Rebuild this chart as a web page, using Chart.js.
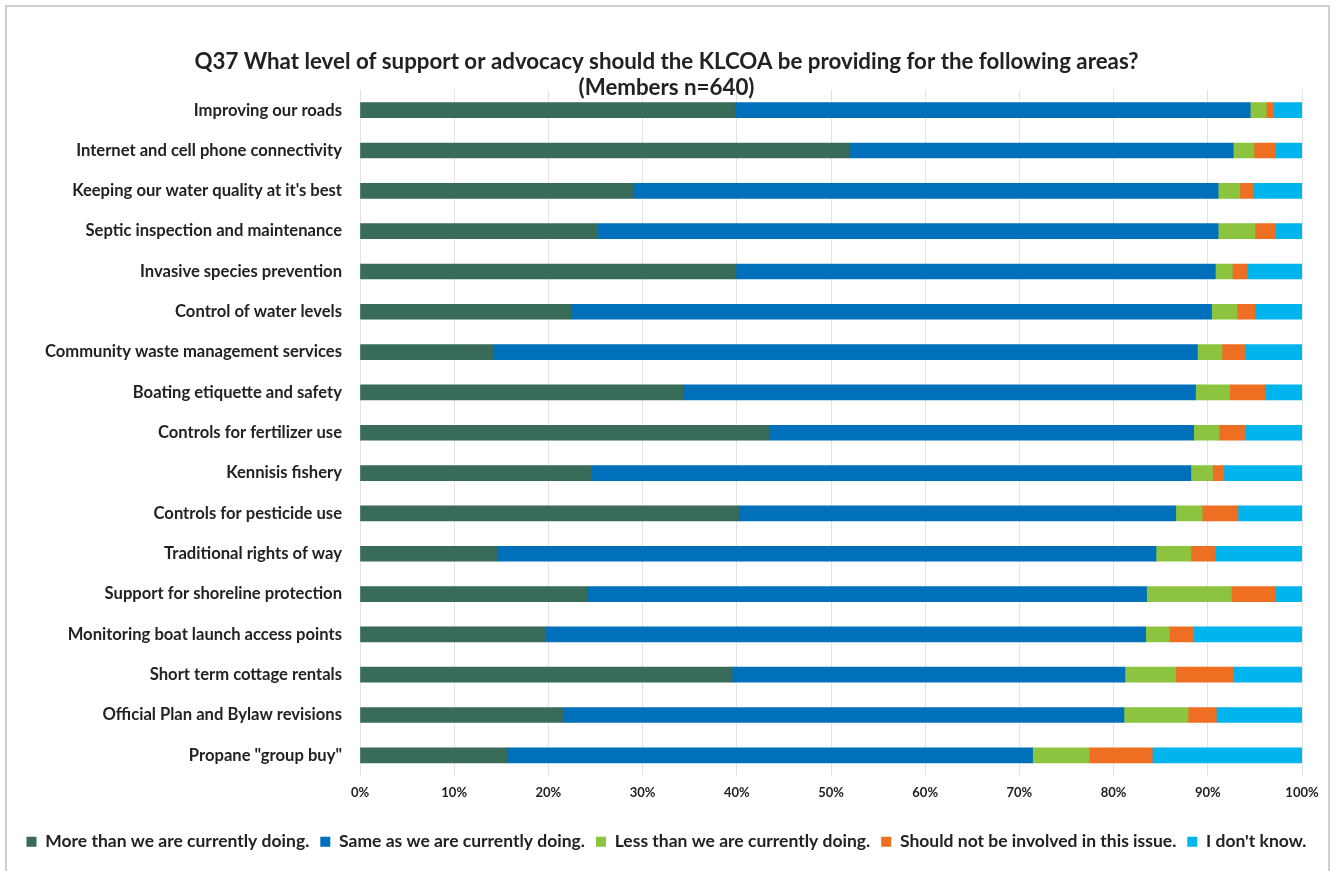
<!DOCTYPE html>
<html>
<head>
<meta charset="utf-8">
<script src="https://cdn.jsdelivr.net/npm/chart.js@4/dist/chart.umd.min.js"></script>
<style>
  html, body { margin: 0; padding: 0; background: #fff; overflow: hidden; }
  #wrap { position: relative; width: 1333px; height: 871px; }
  #frame { position: absolute; left: 5px; top: 5px; width: 1325px; height: 880px; border: 2px solid #cfcfcf; box-sizing: border-box; }
  canvas { position: absolute; left: 0; top: 0; }
</style>
</head>
<body>
<div id="wrap">
  <div id="frame"></div>
  <canvas id="myChart" width="1333" height="871"></canvas>
</div>
<script>
// カテゴリ
let categories = [
  "Improving our roads",
  "Internet and cell phone connectivity",
  "Keeping our water quality at it's best",
  "Septic inspection and maintenance",
  "Invasive species prevention",
  "Control of water levels",
  "Community waste management services",
  "Boating etiquette and safety",
  "Controls for fertilizer use",
  "Kennisis fishery",
  "Controls for pesticide use",
  "Traditional rights of way",
  "Support for shoreline protection",
  "Monitoring boat launch access points",
  "Short term cottage rentals",
  "Official Plan and Bylaw revisions",
  "Propane \"group buy\"",
];

// 系列の値（%）
let moreVals = [39.8, 52.0, 29.0, 25.2, 39.9, 22.4, 14.1, 34.3, 43.4, 24.6, 40.2, 14.5, 24.1, 19.7, 39.5, 21.5, 15.6];
let sameVals = [54.7, 40.7, 62.1, 65.9, 50.9, 68.0, 74.8, 54.4, 45.1, 63.6, 46.4, 70.0, 59.4, 63.7, 41.7, 59.6, 55.8];
let lessVals = [1.7, 2.2, 2.3, 3.9, 1.8, 2.7, 2.6, 3.6, 2.7, 2.3, 2.8, 3.7, 9.0, 2.5, 5.4, 6.8, 6.0];
let notVals = [0.8, 2.3, 1.4, 2.2, 1.6, 1.9, 2.4, 3.8, 2.7, 1.2, 3.8, 2.6, 4.7, 2.6, 6.1, 3.0, 6.7];
let dkVals = [3.0, 2.8, 5.2, 2.8, 5.8, 5.0, 6.1, 3.9, 6.1, 8.3, 6.8, 9.2, 2.8, 11.5, 7.3, 9.1, 15.9];

let seriesNames = [
  "More than we are currently doing.",
  "Same as we are currently doing.",
  "Less than we are currently doing.",
  "Should not be involved in this issue.",
  "I don't know.",
];

let titleLines = [
  "Q37 What level of support or advocacy should the KLCOA be providing for the following areas?",
  "(Members n=640)",
];

let xTicks = [0, 10, 20, 30, 40, 50, 60, 70, 80, 90, 100];

let colors = ["#386b58", "#0070bb", "#8cc43f", "#ee6e22", "#00b4ee"];
let fontName = "Lato";
let textColor = "#222222";

function makeDataset(i, values) {
  return {
    label: seriesNames[i],
    data: values,
    backgroundColor: colors[i],
    borderWidth: 0,
    barThickness: 15,
  };
}

let config = {
  type: "bar",
  data: {
    labels: categories,
    datasets: [
      makeDataset(0, moreVals),
      makeDataset(1, sameVals),
      makeDataset(2, lessVals),
      makeDataset(3, notVals),
      makeDataset(4, dkVals),
    ],
  },
  options: {
    indexAxis: "y",
    responsive: false,
    animation: false,
    layout: {
      padding: { left: 10, right: 10, top: 0, bottom: 10.5 },
    },
    plugins: {
      title: {
        display: true,
        text: titleLines,
        color: textColor,
        font: { family: fontName, size: 22.3, weight: "bold", lineHeight: 1.166 },
        padding: { top: 49, bottom: -11 },
      },
      legend: {
        display: true,
        position: "bottom",
        labels: {
          color: textColor,
          boxWidth: 10,
          boxHeight: 10,
          padding: 11,
          font: { family: fontName, size: 17.5, weight: "bold" },
        },
      },
      tooltip: { enabled: false },
    },
    scales: {
      x: {
        stacked: true,
        min: 0,
        max: 100,
        afterBuildTicks: (scale) => {
          scale.ticks = xTicks.map((v) => ({ value: v }));
        },
        afterFit: (scale) => {
          scale.height = 46.5;
        },
        grid: {
          color: "#e3e3e3",
          lineWidth: 1,
          drawTicks: false,
        },
        border: { display: false },
        ticks: {
          color: textColor,
          padding: 10,
          maxRotation: 0,
          font: { family: fontName, size: 13, weight: "bold" },
          callback: (v) => v + "%",
        },
      },
      y: {
        stacked: true,
        grid: { display: false, drawTicks: false },
        border: { display: false },
        afterFit: (scale) => {
          scale.width = 350;
        },
        ticks: {
          color: textColor,
          padding: 18,
          autoSkip: false,
          font: { family: fontName, size: 16.6, weight: "bold" },
        },
      },
      // 右側の余白用（表示なし）
      yRight: {
        type: "category",
        position: "right",
        grid: { display: false, drawTicks: false },
        border: { display: false },
        ticks: { display: false },
        afterFit: (scale) => {
          scale.width = 21;
        },
      },
    },
  },
};

window.onload = function () {
  let ctx = document.getElementById("myChart").getContext("2d");
  window.myBar = new Chart(ctx, config);
};
</script>
</body>
</html>
